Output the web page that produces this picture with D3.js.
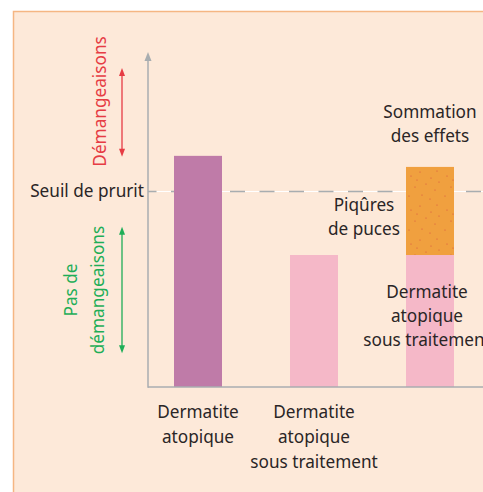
<!DOCTYPE html>
<html>
<head>
<meta charset="utf-8">
<script src="https://cdn.jsdelivr.net/npm/d3@7"></script>
<style>
  html, body { margin: 0; padding: 0; background: #ffffff; }
  svg { display: block; }
  text { font-family: "Noto Sans", Lato, sans-serif; }
</style>
</head>
<body>
<svg id="chart" width="483" height="492"></svg>
<script>
// ---- data ----
const categories = ["Dermatite atopique", "Dermatite atopique sous traitement", "Sommation des effets"];
const categoryLabels = [["Dermatite", "atopique"], ["Dermatite", "atopique", "sous traitement"], []];
const baseValues = [69, 39.4, 39.4];      // itch level from dermatitis
const fleaValues = [0, 0, 26.3];          // added itch from flea bites
const baseKinds = ["untreated", "treated", "treated"];
const thresholdValue = 58.5;               // "Seuil de prurit"
const itchRange = [68.7, 95.2];            // "Démangeaisons" arrow span
const noItchRange = [10.1, 47.8];          // "Pas de démangeaisons" arrow span
const axisMax = 100;

// ---- layout ----
const svg = d3.select("#chart");
const W = 483, H = 492;
const panel = { x: 13.5, y: 11.5 };
const axisX = 148, axisY = 387, axisTop = 52;
const barW = 48;

const y = d3.scaleLinear().domain([0, axisMax]).range([axisY, axisTop]);
const x = d3.scalePoint().domain(categories).range([198, 430]);

const colors = {
  bg: "#fde9d9", border: "#f5b683", axis: "#a8adb0",
  untreated: "#bf7ba8", treated: "#f5b8c8", flea: "#f0a03f",
  red: "#e63c44", green: "#1fae57", text: "#2a2526"
};

// defs: speckle pattern for flea-bite segment
const defs = svg.append("defs");
const pat = defs.append("pattern").attr("id", "speckle")
  .attr("patternUnits", "userSpaceOnUse").attr("width", 36).attr("height", 34)
  .attr("x", 406).attr("y", 168);
pat.append("rect").attr("width", 36).attr("height", 34).attr("fill", colors.flea);
const speck = [[5,8],[14,4],[25,10],[31,3],[9,19],[20,16],[29,22],[3,28],[16,27],[24,31],[33,14],[11,12]];
pat.selectAll("circle").data(speck).enter().append("circle")
  .attr("cx", d => d[0]).attr("cy", d => d[1]).attr("r", 0.6).attr("fill", "#d9533f");

// background panel
svg.append("rect").attr("x", panel.x).attr("y", panel.y)
  .attr("width", W - panel.x + 5).attr("height", H - panel.y + 5)
  .attr("fill", colors.bg).attr("stroke", colors.border).attr("stroke-width", 1.5);

// threshold line (white line with grey dashes)
const ty = Math.round(y(thresholdValue)) + 0.5;
svg.append("line").attr("x1", axisX).attr("x2", W).attr("y1", ty).attr("y2", ty)
  .attr("stroke", "#ffffff").attr("stroke-width", 1.2);
svg.append("line").attr("x1", axisX).attr("x2", W).attr("y1", ty).attr("y2", ty)
  .attr("stroke", colors.axis).attr("stroke-width", 1.5)
  .attr("stroke-dasharray", "15,14.5").attr("stroke-dashoffset", 6.5);

// bars
const g = svg.append("g");
g.selectAll("rect.base").data(categories).enter().append("rect")
  .attr("class", "base")
  .attr("x", d => x(d) - barW / 2)
  .attr("width", barW)
  .attr("y", (d, i) => y(baseValues[i]))
  .attr("height", (d, i) => y(0) - y(baseValues[i]))
  .attr("fill", (d, i) => colors[baseKinds[i]]);
g.selectAll("rect.flea").data(categories.filter((d, i) => fleaValues[i] > 0)).enter().append("rect")
  .attr("class", "flea")
  .attr("x", d => x(d) - barW / 2)
  .attr("width", barW)
  .attr("y", d => { const i = categories.indexOf(d); return y(baseValues[i] + fleaValues[i]); })
  .attr("height", d => { const i = categories.indexOf(d); return y(baseValues[i]) - y(baseValues[i] + fleaValues[i]); })
  .attr("fill", "url(#speckle)");

// axes
svg.append("line").attr("x1", axisX).attr("x2", W).attr("y1", axisY).attr("y2", axisY)
  .attr("stroke", colors.axis).attr("stroke-width", 1.5);
svg.append("line").attr("x1", axisX).attr("x2", axisX).attr("y1", axisY + 0.75).attr("y2", axisTop + 6)
  .attr("stroke", colors.axis).attr("stroke-width", 1.5);
svg.append("path").attr("d", `M${axisX},${axisTop} L${axisX - 3.5},${axisTop + 9} L${axisX + 3.5},${axisTop + 9} Z`)
  .attr("fill", colors.axis);

// category labels
const fs = 17.2, lh = 25;
categories.forEach((c, i) => {
  const t = svg.append("text").attr("text-anchor", "middle").attr("fill", colors.text)
    .attr("font-size", fs);
  categoryLabels[i].forEach((line, k) => {
    t.append("tspan").attr("x", x(c)).attr("y", 418 + k * lh).text(line);
  });
});

// threshold label
svg.append("text").attr("x", 144).attr("y", ty + 5.5).attr("text-anchor", "end")
  .attr("font-size", fs).attr("fill", colors.text).text("Seuil de prurit");

// double arrows
function dblArrow(x0, v0, v1, color) {
  const a = y(v1), b = y(v0);
  svg.append("line").attr("x1", x0).attr("x2", x0).attr("y1", a + 5).attr("y2", b - 5)
    .attr("stroke", color).attr("stroke-width", 1.3);
  svg.append("path").attr("d", `M${x0},${a} L${x0 - 3},${a + 8} L${x0 + 3},${a + 8} Z`).attr("fill", color);
  svg.append("path").attr("d", `M${x0},${b} L${x0 - 3},${b - 8} L${x0 + 3},${b - 8} Z`).attr("fill", color);
}
dblArrow(122, itchRange[0], itchRange[1], colors.red);
dblArrow(122, noItchRange[0], noItchRange[1], colors.green);

// rotated side labels
svg.append("text").attr("transform", `translate(106,${(y(itchRange[0]) + y(itchRange[1])) / 2 - 11}) rotate(-90)`)
  .attr("text-anchor", "middle").attr("font-size", fs).attr("fill", colors.red).text("Démangeaisons");
const gl = svg.append("text").attr("transform", `translate(0,${(y(noItchRange[0]) + y(noItchRange[1])) / 2}) rotate(-90)`)
  .attr("text-anchor", "middle").attr("font-size", fs).attr("fill", colors.green);
gl.append("tspan").attr("x", 0).attr("y", 77).text("Pas de");
gl.append("tspan").attr("x", 0).attr("y", 104).text("démangeaisons");

// annotations around the stacked bar
function multi(cx, y0, lines) {
  const t = svg.append("text").attr("text-anchor", "middle").attr("font-size", fs).attr("fill", colors.text);
  lines.forEach((l, k) => t.append("tspan").attr("x", cx).attr("y", y0 + k * 24).text(l));
}
multi(430, 118, ["Sommation", "des effets"]);
multi(364, 211, ["Piqûres", "de puces"]);
multi(427, 298, ["Dermatite", "atopique", "sous traitement"]);
</script>
</body>
</html>
